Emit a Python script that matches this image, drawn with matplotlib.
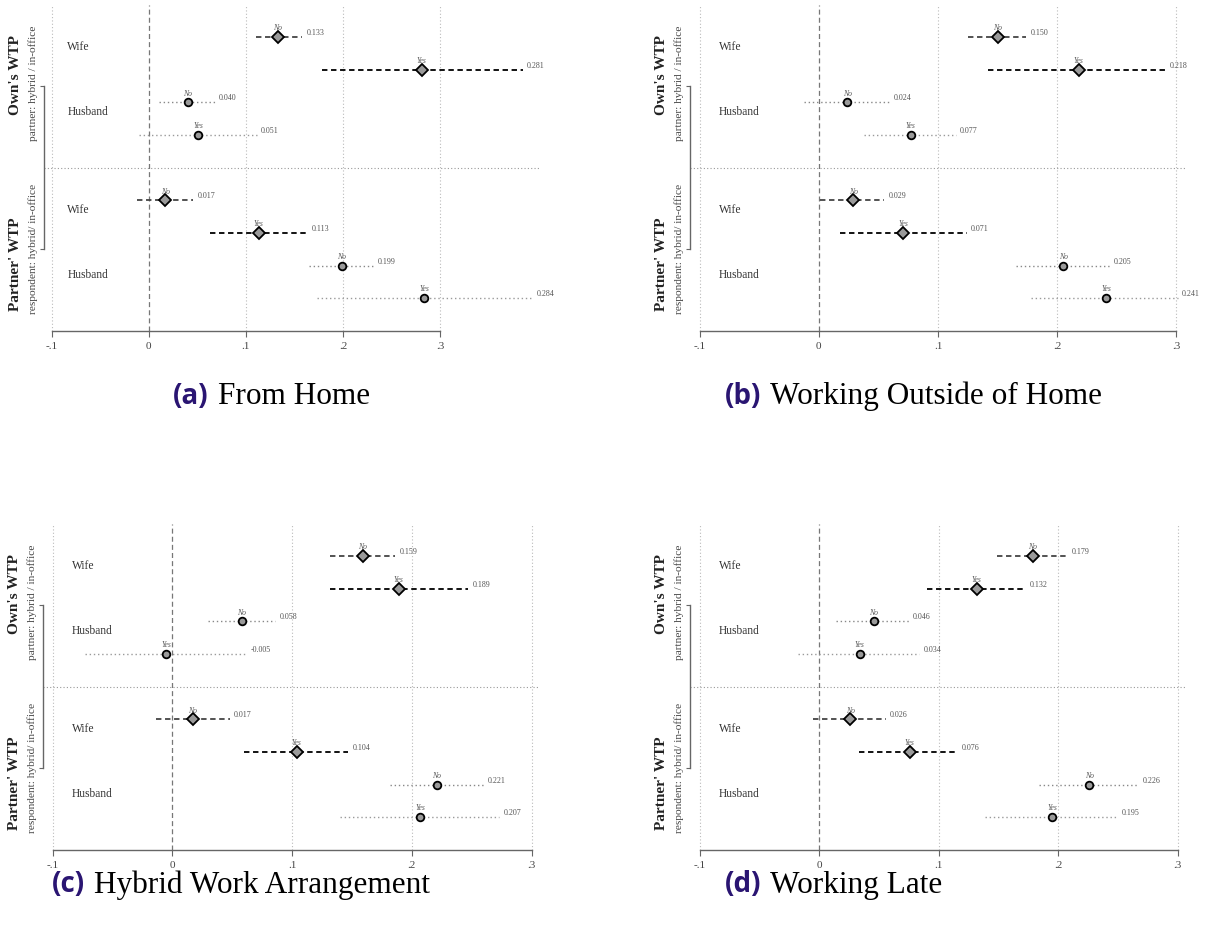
import matplotlib
matplotlib.use("Agg")
import matplotlib.pyplot as plt

# rows: own wife No/Yes, own husband No/Yes, partner wife No/Yes, partner husband No/Yes
row_who = ["Wife", "Wife", "Husband", "Husband", "Wife", "Wife", "Husband", "Husband"]
row_ans = ["No", "Yes", "No", "Yes", "No", "Yes", "No", "Yes"]

est_home = [0.133, 0.281, 0.040, 0.051, 0.017, 0.113, 0.199, 0.284]
lo_home = [0.110, 0.178, 0.010, -0.010, -0.012, 0.063, 0.165, 0.173]
hi_home = [0.158, 0.385, 0.068, 0.111, 0.046, 0.164, 0.232, 0.395]

est_outside = [0.150, 0.218, 0.024, 0.077, 0.029, 0.071, 0.205, 0.241]
lo_outside = [0.125, 0.142, -0.012, 0.038, 0.001, 0.018, 0.165, 0.178]
hi_outside = [0.174, 0.291, 0.059, 0.115, 0.055, 0.124, 0.244, 0.301]

est_hybrid = [0.159, 0.189, 0.058, -0.005, 0.017, 0.104, 0.221, 0.207]
lo_hybrid = [0.132, 0.132, 0.030, -0.073, -0.014, 0.060, 0.182, 0.140]
hi_hybrid = [0.186, 0.247, 0.086, 0.062, 0.048, 0.147, 0.260, 0.273]

est_late = [0.179, 0.132, 0.046, 0.034, 0.026, 0.076, 0.226, 0.195]
lo_late = [0.149, 0.090, 0.014, -0.018, -0.005, 0.033, 0.184, 0.139]
hi_late = [0.208, 0.173, 0.075, 0.084, 0.056, 0.116, 0.267, 0.250]

tags = ["(a)", "(b)", "(c)", "(d)"]
titles = ["From Home", "Working Outside of Home", "Hybrid Work Arrangement", "Working Late"]
xticks = [-0.1, 0, 0.1, 0.2, 0.3]
xticklabels = ["-.1", "0", ".1", ".2", ".3"]
xmax = [0.403, 0.308, 0.307, 0.307]

SERIF = "Liberation Serif"
W, H = 1209, 933

fig = plt.figure(figsize=(W / 100, H / 100), dpi=100)

# axes boxes in pixels: left, top, right, bottom
boxes = [(44, 4.5, 540, 331), (690, 4.5, 1186, 331),
         (43, 523.5, 540, 850), (690, 523.5, 1186, 850)]
# caption start x and centre y in pixels
caption_pos = [(173, 396), (725, 396), (52, 885), (725, 885)]

data = [(est_home, lo_home, hi_home), (est_outside, lo_outside, hi_outside),
        (est_hybrid, lo_hybrid, hi_hybrid), (est_late, lo_late, hi_late)]

ypos = [1, 2, 3, 4, 6, 7, 8, 9]


def caption(x0, cy, tag, title):
    t1 = fig.text(x0 / W, 1 - cy / H, tag, fontsize=20, fontweight="bold",
                  family="Open Sans", color="#2a1572", va="center", ha="left")
    t2 = fig.text(0, 1 - cy / H, title, fontsize=22.5, family=SERIF,
                  color="black", va="center", ha="left")
    r = fig.canvas.get_renderer()
    w1 = t1.get_window_extent(r).width
    t2.set_x((x0 + w1 + 9) / W)


for k in range(4):
    l, t, r, b = boxes[k]
    ax = fig.add_axes([l / W, 1 - b / H, (r - l) / W, (b - t) / H])
    est, lo, hi = data[k]

    ax.set_xlim(-0.108, xmax[k])
    ax.set_ylim(10, 0)

    for g in [-0.1, 0.1, 0.2, 0.3]:
        ax.axvline(g, color="#bbbbbb", ls=(0, (1, 2)), lw=0.8, zorder=0)
    ax.axvline(0, color="#777777", ls=(0, (4, 2.5)), lw=0.9, zorder=1)
    ax.axhline(5, color="#999999", ls=(0, (1, 2)), lw=0.8, zorder=0)

    for i in range(8):
        y = ypos[i]
        wife = row_who[i] == "Wife"
        if wife:
            col = "#444444" if row_ans[i] == "No" else "black"
            ax.plot([lo[i], hi[i]], [y, y], color=col, ls=(0, (3, 2)), lw=1.3, zorder=2)
            ax.plot(est[i], y, marker="D", ms=6, mfc="#9a9a9a", mec="black",
                    mew=1.3, ls="none", zorder=3)
        else:
            col = "#888888" if row_ans[i] == "No" else "#9a9a9a"
            ax.plot([lo[i], hi[i]], [y, y], color=col, ls=(0, (1, 2)), lw=1.0, zorder=2)
            ax.plot(est[i], y, marker="o", ms=5.5, mfc="#9a9a9a", mec="black",
                    mew=1.3, ls="none", zorder=3)
        ax.annotate(row_ans[i], (est[i], y), xytext=(0, 3.5), textcoords="offset points",
                    ha="center", va="bottom", fontsize=5.5, style="italic",
                    family=SERIF, color="#555555")
        ax.annotate(f"{est[i]:.3f}", (hi[i], y), xytext=(3, 3), textcoords="offset points",
                    ha="left", va="center", fontsize=5.8, family=SERIF, color="#555555")

    # row labels
    for lab, yy in [("Wife", 1.3), ("Husband", 3.3), ("Wife", 6.3), ("Husband", 8.3)]:
        ax.text(-0.084, yy, lab, ha="left", va="center", fontsize=8.3,
                family=SERIF, color="#333333")

    # group labels
    yt = ax.get_yaxis_transform()
    ax.text(-0.058, 2.15, "Own's WTP", transform=yt, rotation=90, ha="center",
            va="center", fontsize=11, fontweight="bold", family=SERIF, color="#222222")
    ax.text(-0.022, 2.4, "partner: hybrid / in-office", transform=yt, rotation=90,
            ha="center", va="center", fontsize=8.2, family=SERIF, color="#444444")
    ax.text(-0.058, 7.95, "Partner' WTP", transform=yt, rotation=90, ha="center",
            va="center", fontsize=11, fontweight="bold", family=SERIF, color="#222222")
    ax.text(-0.022, 7.5, "respondent: hybrid/ in-office", transform=yt, rotation=90,
            ha="center", va="center", fontsize=8.2, family=SERIF, color="#444444")

    for s in ["top", "right"]:
        ax.spines[s].set_visible(False)
    ax.spines["bottom"].set_bounds(-0.1, 0.3)
    ax.spines["left"].set_bounds(2.5, 7.5)
    for s in ["bottom", "left"]:
        ax.spines[s].set_color("#666666")
        ax.spines[s].set_linewidth(1.0)

    ax.set_xticks(xticks)
    ax.set_xticklabels(xticklabels, family=SERIF, fontsize=8, color="#444444")
    ax.set_yticks([2.5, 7.5])
    ax.set_yticklabels([])
    ax.tick_params(axis="x", length=4, width=0.8, color="#666666", pad=4)
    ax.tick_params(axis="y", length=3, width=0.8, color="#666666")

    caption(caption_pos[k][0], caption_pos[k][1], tags[k], titles[k])

fig.savefig("out.png", dpi=100)
